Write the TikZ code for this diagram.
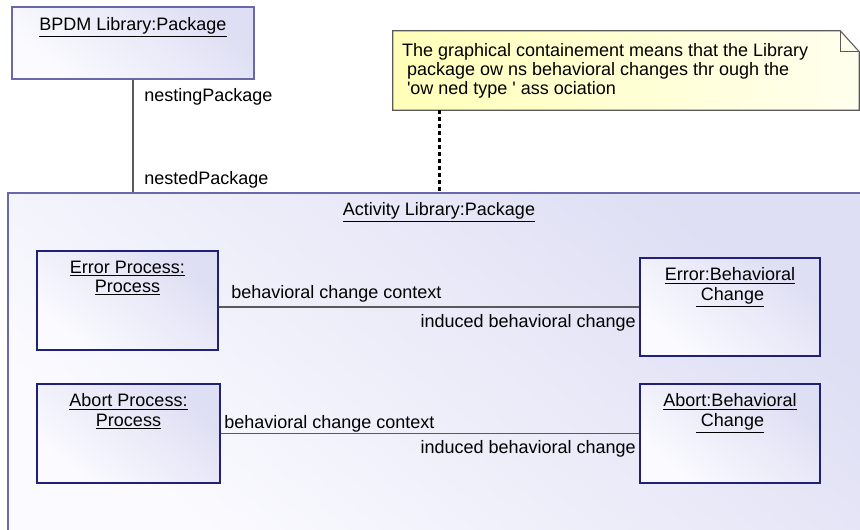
\documentclass[tikz,border=0pt]{standalone}
\usepackage{fontspec}
\setmainfont{Liberation Sans}
\usetikzlibrary{positioning, fit}

\definecolor{lavtop}{RGB}{222,222,244}
\definecolor{lavbot}{RGB}{251,251,255}
\definecolor{pkgblue}{RGB}{104,104,170}
\definecolor{objblue}{RGB}{32,32,120}
\definecolor{linkgray}{RGB}{90,90,90}
\definecolor{noteleft}{RGB}{255,255,185}
\definecolor{noteright}{RGB}{255,255,238}

\newcommand{\umlfont}{\fontsize{13.5}{14.6}\selectfont}

\begin{document}
\begin{tikzpicture}[x=0.75pt, y=-0.75pt,
    pkg/.style={draw=pkgblue, line width=0.8pt, top color=lavtop, bottom color=lavbot, shading angle=-40, inner sep=0},
    obj/.style={draw=objblue, line width=0.8pt, top color=lavtop, bottom color=lavbot, shading angle=-40, inner sep=0},
    title/.style={anchor=north, inner sep=0, align=center, font=\umlfont},
    role/.style={inner sep=0, font=\umlfont},
    link/.style={draw=linkgray, line width=0.8pt},
    notelink/.style={line width=2.1pt, dash pattern=on 3pt off 2.25pt}
]
\useasboundingbox (0,0) rectangle (860,529);
\clip (0,0) rectangle (860,529);
\fill[white] (0,0) rectangle (860,529);

% packages
\node[pkg, fit={(12,7) (254,79)}] (bpdm) {};
\node[title] at ([yshift=-8.25pt]bpdm.north) {\underline{BPDM Library:Package}};

\node[pkg, fit={(8,193) (870,545)}] (actlib) {};
\node[title] at ([yshift=-7.5pt]actlib.north) {\underline{Activity Library:Package}};

\draw[link] (bpdm.south) -- (bpdm.south |- actlib.north);
\node[role, anchor=base west] at (144,101) {nestingPackage};
\node[role, anchor=base west] at (144,184) {nestedPackage};

% note
\node[fit={(393,31) (859,110)}, inner sep=0] (note) {};
\draw[draw=linkgray, line width=0.8pt, left color=noteleft, right color=noteright]
    (note.south west) -- (note.north west) -- ([xshift=-14.25pt]note.north east)
    -- ([yshift=-15.75pt]note.north east) -- (note.south east) -- cycle;
\draw[draw=linkgray, line width=0.8pt] ([xshift=-14.25pt]note.north east)
    -- ([xshift=-14.25pt, yshift=-15.75pt]note.north east) -- ([yshift=-15.75pt]note.north east);
\node[role, anchor=north west, align=left] at ([xshift=6.75pt, yshift=-9pt]note.north west)
    {The graphical containement means that the Library\\
     \ package ow ns behavioral changes thr ough the\\
     \ \textquotesingle ow ned type \textquotesingle\ ass ociation};
\draw[notelink] ([xshift=35.25pt]note.south west) -- ([xshift=35.25pt]note.south west |- actlib.north);

% objects
\node[obj, fit={(37,251) (218,350)}] (errproc) {};
\node[title] at ([yshift=-7.5pt]errproc.north) {\underline{Error Process:}\\\underline{Process}};
\node[obj, fit={(640,258) (820,356)}] (errchg) {};
\node[title] at ([yshift=-7.5pt]errchg.north) {\underline{Error:Behavioral}\\\underline{\ Change}};

\node[obj, fit={(37,384) (220,483)}] (abproc) {};
\node[title] at ([yshift=-7.5pt]abproc.north) {\underline{Abort Process:}\\\underline{Process}};
\node[obj, fit={(640,384) (820,483)}] (abchg) {};
\node[title] at ([yshift=-7.5pt]abchg.north) {\underline{Abort:Behavioral}\\\underline{\ Change}};

\draw[link] (errchg.west -| errproc.east) -- (errchg.west);
\node[role, anchor=base west] at (231,298) {behavioral change context};
\node[role, anchor=base east] at (636,327) {induced behavioral change};

\draw[link] (abproc.east) -- (abchg.west);
\node[role, anchor=base west] at (224,428) {behavioral change context};
\node[role, anchor=base east] at (636,453) {induced behavioral change};
\end{tikzpicture}
\end{document}
